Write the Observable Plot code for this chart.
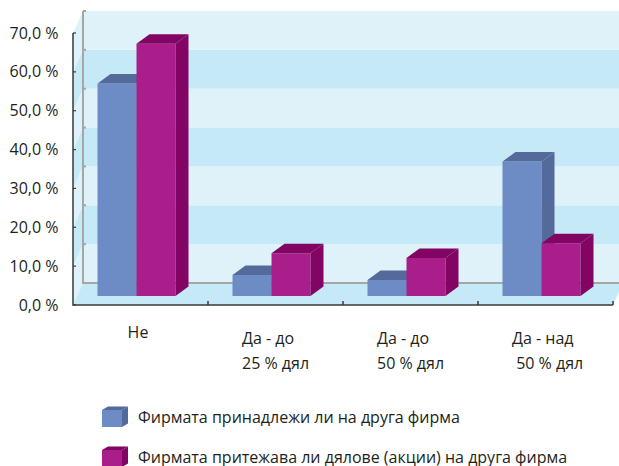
<!DOCTYPE html>
<html>
<head>
<meta charset="utf-8">
<script src="https://cdn.jsdelivr.net/npm/d3@7"></script>
<script src="https://cdn.jsdelivr.net/npm/@observablehq/plot@0.6"></script>
<style>
  html, body { margin: 0; padding: 0; background: #fff; overflow: hidden; }
  #chart { width: 619px; font-family: "Open Sans", sans-serif; }
  #chart svg { display: block; }
</style>
</head>
<body>
<div id="chart"></div>
<script>
// Categories (x axis) and the two answer series, in percent
const categories = ["Не", "Да - до\n25 % дял", "Да - до\n50 % дял", "Да - над\n 50 % дял"];
const seriesNames = [
  "Фирмата принадлежи ли на друга фирма",
  "Фирмата притежава ли дялове (акции) на друга фирма"
];
const ownedByAnother = [54.7, 5.4, 4.1, 34.6];
const holdsShares = [64.9, 11.0, 9.8, 13.6];
const yTicks = [0, 10, 20, 30, 40, 50, 60, 70];

// Look of the pseudo-3D box and bars
const seriesColors = [
  {front: "#6d8cc6", shade: "#536a9b"},
  {front: "#aa1e8b", shade: "#820564"}
];
const wallLight = "#dff2fa";
const wallDark = "#c6e9f8";
const wallEdge = "#a6a6a6";
const axisInk = "#3a3a3a";
const textInk = "#231f20";
const wallDepth = [10, -22];   // px offset from the front plane to the back wall
const barDepth = [13, -9.5];   // px depth of each bar
const barLift = 9;             // bars stand part-way back on the floor
const barFrac = 39 / 135;      // bar width as a share of the category band
const pairShift = -4;          // px shift of each bar pair from the band centre

const width = 619, height = 372;

const rows = categories.flatMap((category, i) => [
  {category, series: 0, value: ownedByAnother[i]},
  {category, series: 1, value: holdsShares[i]}
]);

const bands = yTicks.slice(0, -1).map((lo, i) => ({lo, hi: yTicks[i + 1], fill: i % 2 ? wallDark : wallLight}));

const poly = (p) => "M" + p.map((d) => d.join(",")).join("L") + "Z";

// Back wall, side wall, floor and the front axis lines
function renderBox(index, scales, values, dims) {
  const {width: w, marginLeft, marginRight} = dims;
  const [dx, dy] = wallDepth;
  const xl = marginLeft, xr = w - marginRight;
  const y = scales.y;
  const y0 = y(0);
  const g = d3.create("svg:g");
  for (const i of index) {
    const yl = values.y1[i], yh = values.y2[i];
    g.append("rect")
      .attr("x", xl + dx).attr("y", yh + dy)
      .attr("width", xr - xl + 2 * dx).attr("height", yl - yh)
      .attr("fill", bands[i].fill);
    g.append("path")
      .attr("fill", bands[i].fill)
      .attr("d", poly([[xl, yl], [xl, yh], [xl + dx, yh + dy], [xl + dx, yl + dy]]));
  }
  g.append("path")
    .attr("fill", wallDark)
    .attr("d", poly([[xl, y0], [xr, y0], [xr + dx, y0 + dy], [xl + dx, y0 + dy]]));
  // grey edges of the back wall
  g.append("path")
    .attr("fill", "none").attr("stroke", wallEdge).attr("stroke-width", 2)
    .attr("d", `M${xl + dx},${y(70) + dy}V${y0 + dy}H${xr + 3 * dx}`);
  for (const t of yTicks) {
    g.append("line")
      .attr("x1", xl + dx).attr("x2", xl + dx + 3)
      .attr("y1", y(t) + dy).attr("y2", y(t) + dy)
      .attr("stroke", wallEdge).attr("stroke-width", 2);
  }
  // front axes
  g.append("path")
    .attr("fill", "none").attr("stroke", axisInk).attr("stroke-width", 1.5)
    .attr("d", `M${xl},${y(70)}V${y0}H${xr}`);
  for (const t of yTicks) {
    g.append("line")
      .attr("x1", xl).attr("x2", xl + 3)
      .attr("y1", y(t)).attr("y2", y(t))
      .attr("stroke", axisInk).attr("stroke-width", 1.2);
  }
  const bw = scales.x.bandwidth();
  for (const c of categories) {
    const xb = scales.x(c) + bw;
    g.append("line")
      .attr("x1", xb).attr("x2", xb)
      .attr("y1", y0).attr("y2", y0 - 4)
      .attr("stroke", axisInk).attr("stroke-width", 1.5);
  }
  return g.node();
}

// One series of bars: front face, top face and right side face
function renderBars(series) {
  const {front, shade} = seriesColors[series];
  return (index, scales, values) => {
    const bw = scales.x.bandwidth();
    const w = bw * barFrac;
    const [ddx, ddy] = barDepth;
    const g = d3.create("svg:g");
    for (const i of index) {
      const c = values.x[i] + bw / 2 + pairShift;
      const x0 = series === 0 ? c - w : c, x1 = x0 + w;
      const yb = values.y1[i] - barLift, yt = values.y2[i] - barLift;
      g.append("path").attr("fill", front)
        .attr("d", poly([[x0, yb], [x1, yb], [x1, yt], [x0, yt]]));
      g.append("path").attr("fill", shade)
        .attr("d", poly([[x0, yt], [x1, yt], [x1 + ddx, yt + ddy], [x0 + ddx, yt + ddy]]));
      g.append("path").attr("fill", shade)
        .attr("d", poly([[x1, yb], [x1, yt], [x1 + ddx, yt + ddy], [x1 + ddx, yb + ddy]]));
    }
    return g.node();
  };
}

const fmt = (v) => v.toFixed(1).replace(".", ",") + " %";

const chart = Plot.plot({
  width,
  height,
  marginLeft: 73,
  marginRight: 6,
  marginTop: 33,
  marginBottom: 67,
  style: {fontFamily: "Open Sans, sans-serif", fontSize: "16px", color: textInk, background: "transparent", overflow: "visible"},
  x: {type: "band", domain: categories, padding: 0, axis: null},
  y: {domain: [0, 70], axis: null},
  marks: [
    Plot.rectY(bands, {y1: "lo", y2: "hi", render: renderBox}),
    Plot.barY(rows.filter((d) => d.series === 0), {x: "category", y1: () => 0, y2: "value", render: renderBars(0)}),
    Plot.barY(rows.filter((d) => d.series === 1), {x: "category", y1: () => 0, y2: "value", render: renderBars(1)}),
    Plot.axisY(yTicks, {tickSize: 0, tickPadding: 15, tickFormat: fmt, fontSize: 16, fill: textInk, label: null}),
    Plot.text(categories.slice(0, 1), {
      x: (d) => d, text: (d) => d, frameAnchor: "bottom", dy: 21, dx: -3,
      lineAnchor: "top", textAnchor: "middle", fontSize: 16, fill: textInk
    }),
    Plot.text(categories.slice(1), {
      x: (d) => d, text: (d) => d, frameAnchor: "bottom", dy: 21, dx: -34,
      lineAnchor: "top", textAnchor: "start", lineHeight: 1.56, fontSize: 16, fill: textInk
    })
  ]
});

document.getElementById("chart").append(chart);

// Legend below the plot
const legend = d3.create("svg")
  .attr("width", width).attr("height", 466 - height)
  .style("display", "block")
  .style("font-family", "Open Sans, sans-serif");
seriesNames.forEach((name, i) => {
  const {front, shade} = seriesColors[i];
  const top = 38 + i * 40;
  const g = legend.append("g");
  const x0 = 102, x1 = 122, y0 = top, y1 = top + 17, ddx = 6, ddy = -3.5;
  g.append("path").attr("fill", front).attr("d", poly([[x0, y0], [x1, y0], [x1, y1], [x0, y1]]));
  g.append("path").attr("fill", shade).attr("d", poly([[x0, y0], [x1, y0], [x1 + ddx, y0 + ddy], [x0 + ddx, y0 + ddy]]));
  g.append("path").attr("fill", shade).attr("d", poly([[x1, y0], [x1, y1], [x1 + ddx, y1 + ddy], [x1 + ddx, y0 + ddy]]));
  g.append("text")
    .attr("x", 138).attr("y", top + 12.5)
    .attr("fill", textInk).attr("font-size", 16)
    .text(name);
});
document.getElementById("chart").append(legend.node());
</script>
</body>
</html>
